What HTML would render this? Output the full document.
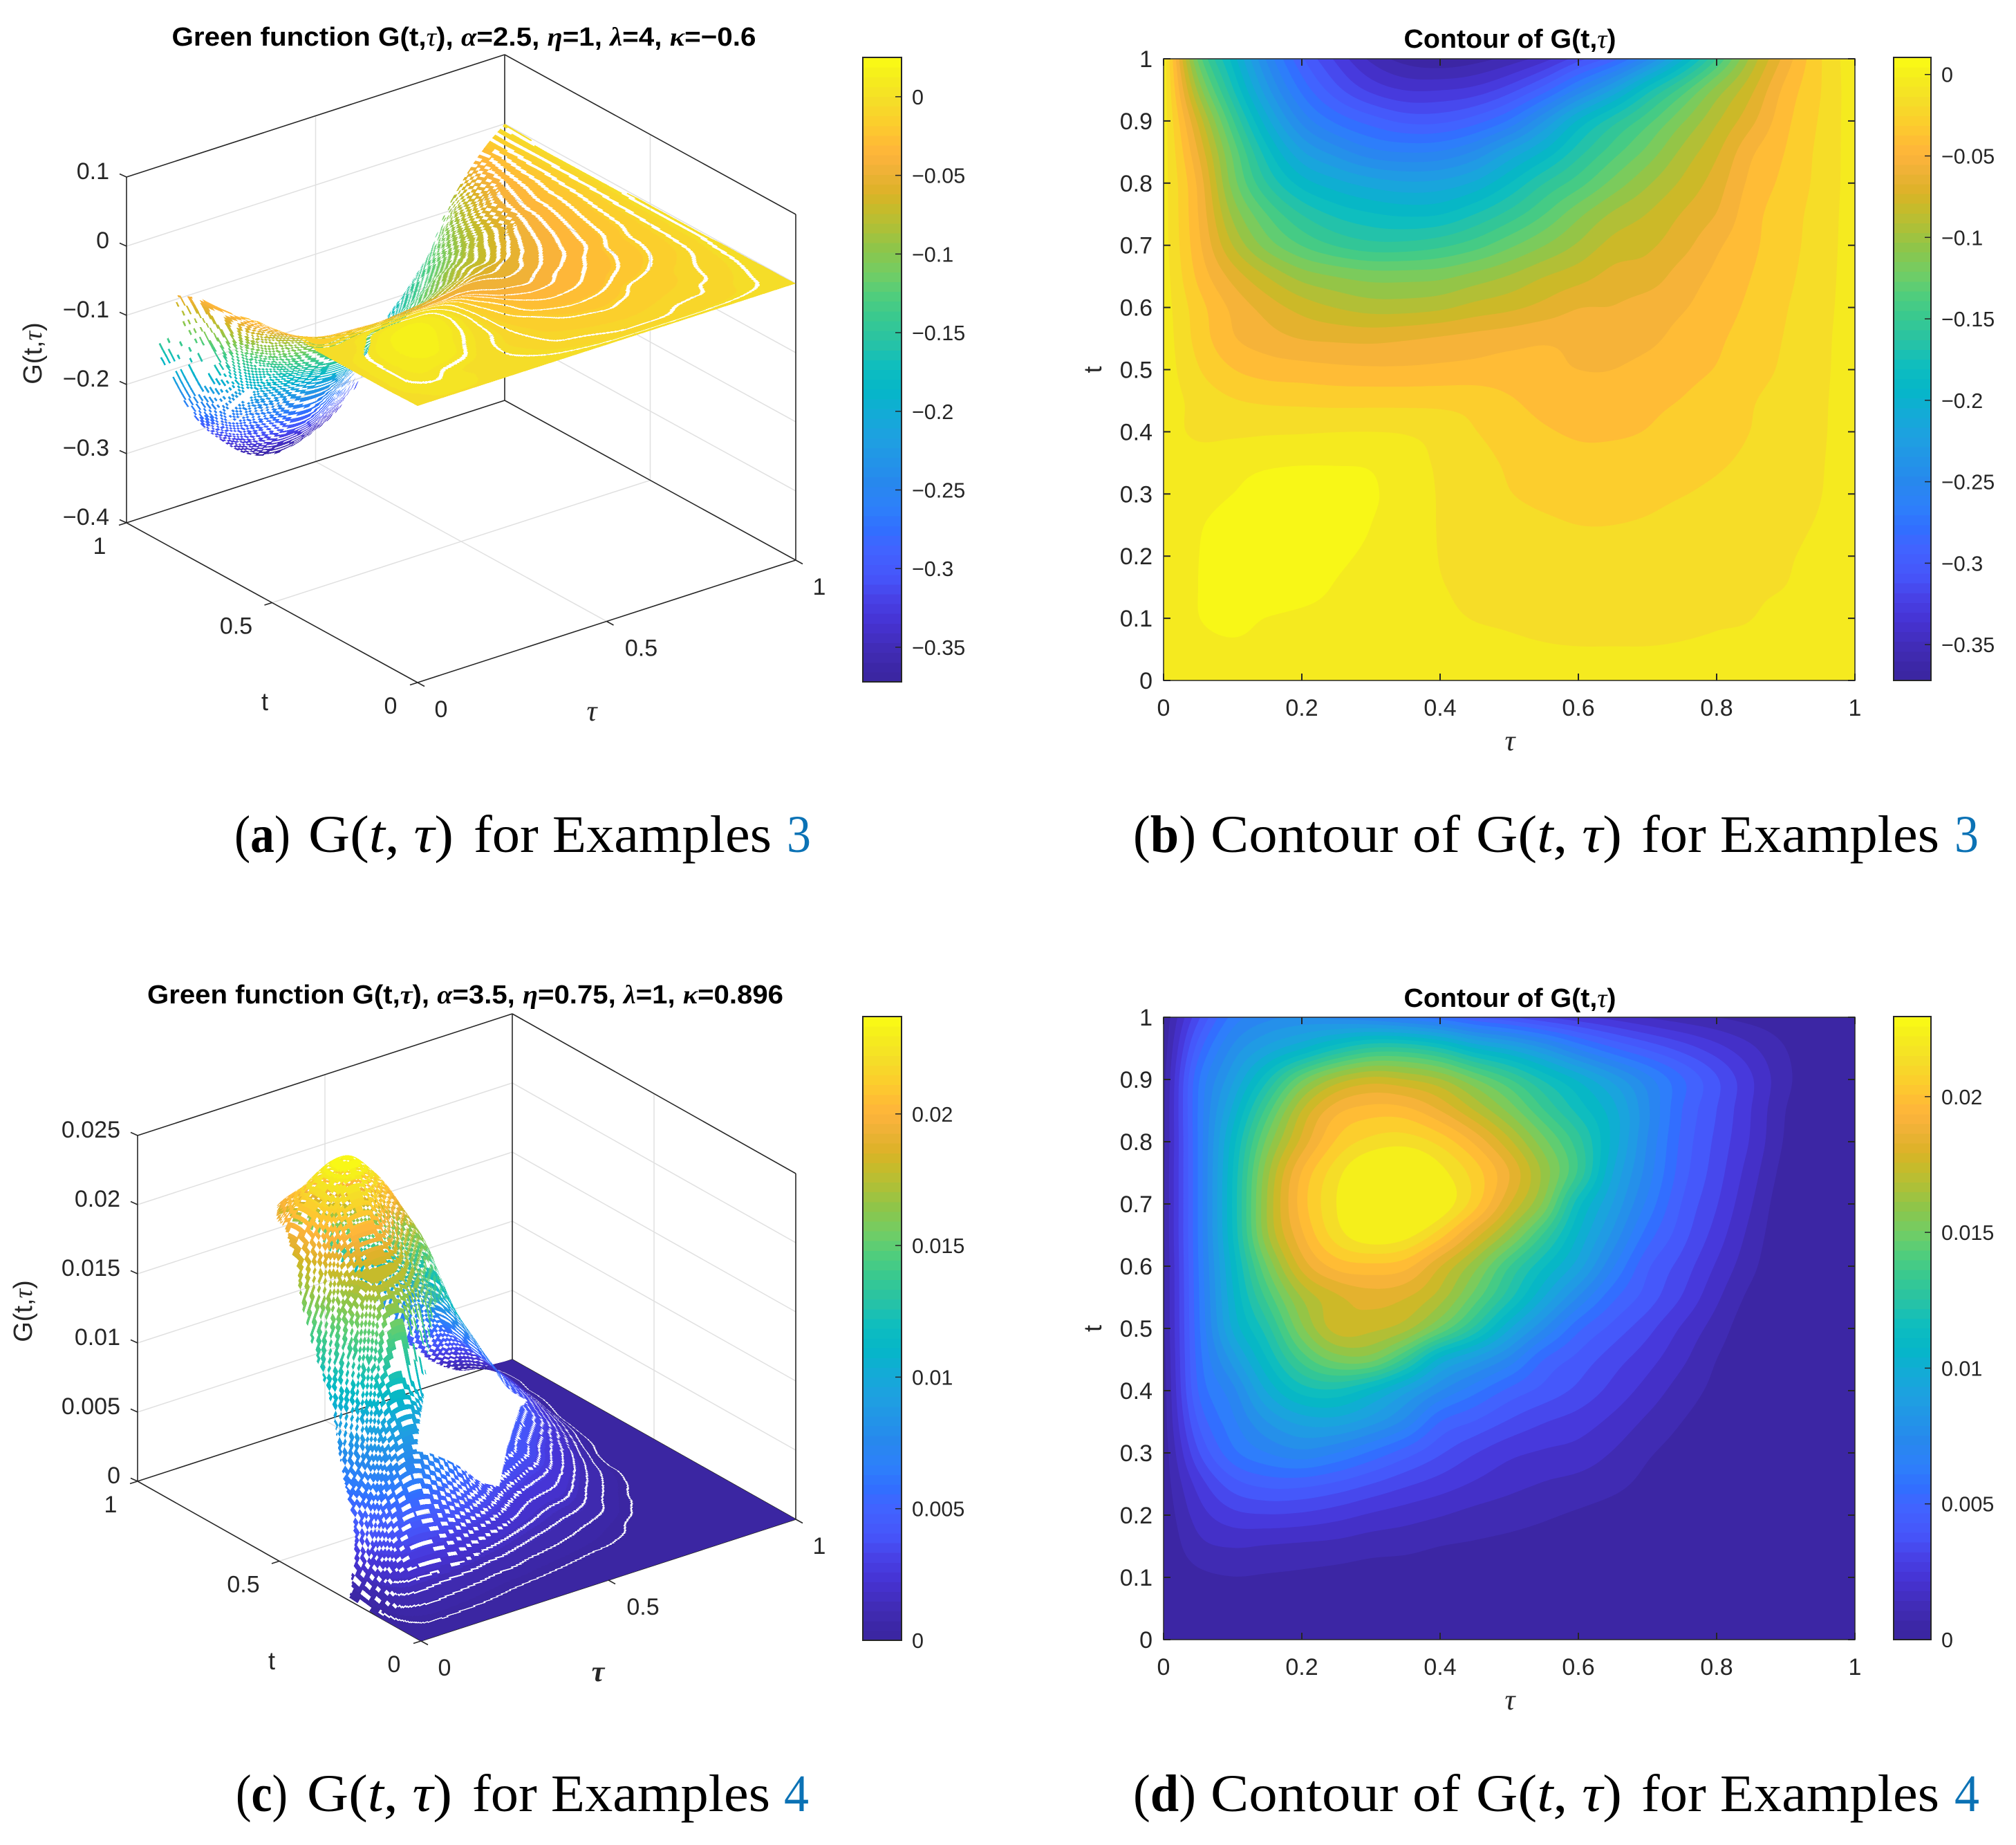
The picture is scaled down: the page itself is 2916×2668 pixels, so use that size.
<!DOCTYPE html>
<html lang="en">
<head>
<meta charset="utf-8">
<title>Green function surfaces and contours</title>
<style>
html,body{margin:0;padding:0;background:#fff;}
svg{display:block;}
text{font-family:"Liberation Sans",sans-serif;fill:#262626;}
.title{font-weight:bold;font-size:38px;fill:#000;}
.greek{font-family:"Liberation Serif",serif;font-style:italic;}
.cap{font-family:"Liberation Serif",serif;font-size:76px;fill:#000;}
</style>
</head>
<body>
<svg id="fig" xmlns="http://www.w3.org/2000/svg" width="2916" height="2668" viewBox="0 0 2916 2668">
<rect width="2916" height="2668" fill="#fff"/>
<g id="panelA"></g>
<g id="panelB"></g>
<g id="panelC"></g>
<g id="panelD"></g>

<text class="title" x="671" y="66" text-anchor="middle" textLength="845" lengthAdjust="spacingAndGlyphs">Green function G(t,<tspan class="greek" font-weight="normal">τ</tspan>), <tspan class="greek">α</tspan>=2.5, <tspan class="greek">η</tspan>=1, <tspan class="greek">λ</tspan>=4, <tspan class="greek">κ</tspan>=−0.6</text>
<text class="title" x="2184" y="69" text-anchor="middle" textLength="307" lengthAdjust="spacingAndGlyphs">Contour of G(t,<tspan class="greek" font-weight="normal">τ</tspan>)</text>
<text class="title" x="673" y="1451" text-anchor="middle" textLength="920" lengthAdjust="spacingAndGlyphs">Green function G(t,<tspan class="greek">τ</tspan>), <tspan class="greek">α</tspan>=3.5, <tspan class="greek">η</tspan>=0.75, <tspan class="greek">λ</tspan>=1, <tspan class="greek">κ</tspan>=0.896</text>
<text class="title" x="2184" y="1456" text-anchor="middle" textLength="307" lengthAdjust="spacingAndGlyphs">Contour of G(t,<tspan class="greek" font-weight="normal">τ</tspan>)</text>

<g>
<text class="cap" x="339" y="1232" textLength="81" lengthAdjust="spacingAndGlyphs">(<tspan font-weight="bold">a</tspan>)</text>
<text class="cap" x="446" y="1232" textLength="210" lengthAdjust="spacingAndGlyphs">G(<tspan font-style="italic">t</tspan>, <tspan font-style="italic">τ</tspan>)</text>
<text class="cap" x="685" y="1232" textLength="431" lengthAdjust="spacingAndGlyphs">for Examples</text>
<text class="cap" x="1138" y="1232" textLength="35" lengthAdjust="spacingAndGlyphs" style="fill:#0b72b5">3</text>
</g>
<g>
<text class="cap" x="1639" y="1232" textLength="91" lengthAdjust="spacingAndGlyphs">(<tspan font-weight="bold">b</tspan>)</text>
<text class="cap" x="1751" y="1232" textLength="361" lengthAdjust="spacingAndGlyphs">Contour of</text>
<text class="cap" x="2135" y="1232" textLength="211" lengthAdjust="spacingAndGlyphs">G(<tspan font-style="italic">t</tspan>, <tspan font-style="italic">τ</tspan>)</text>
<text class="cap" x="2374" y="1232" textLength="431" lengthAdjust="spacingAndGlyphs">for Examples</text>
<text class="cap" x="2827" y="1232" textLength="35" lengthAdjust="spacingAndGlyphs" style="fill:#0b72b5">3</text>
</g>
<g>
<text class="cap" x="341" y="2619" textLength="75" lengthAdjust="spacingAndGlyphs">(<tspan font-weight="bold">c</tspan>)</text>
<text class="cap" x="444" y="2619" textLength="210" lengthAdjust="spacingAndGlyphs">G(<tspan font-style="italic">t</tspan>, <tspan font-style="italic">τ</tspan>)</text>
<text class="cap" x="683" y="2619" textLength="431" lengthAdjust="spacingAndGlyphs">for Examples</text>
<text class="cap" x="1134" y="2619" textLength="36" lengthAdjust="spacingAndGlyphs" style="fill:#0b72b5">4</text>
</g>
<g>
<text class="cap" x="1639" y="2619" textLength="91" lengthAdjust="spacingAndGlyphs">(<tspan font-weight="bold">d</tspan>)</text>
<text class="cap" x="1751" y="2619" textLength="361" lengthAdjust="spacingAndGlyphs">Contour of</text>
<text class="cap" x="2135" y="2619" textLength="211" lengthAdjust="spacingAndGlyphs">G(<tspan font-style="italic">t</tspan>, <tspan font-style="italic">τ</tspan>)</text>
<text class="cap" x="2374" y="2619" textLength="431" lengthAdjust="spacingAndGlyphs">for Examples</text>
<text class="cap" x="2827" y="2619" textLength="36" lengthAdjust="spacingAndGlyphs" style="fill:#0b72b5">4</text>
</g>
</svg>

<script>
// Value grids: rows are t = 0..1, columns are tau = 0..1 (step 0.05).
const greenExample3 = [
[0,0,0,0,0,0,0,0,0,0,0,0,0,0,0,0,0,0,0,0,0],
[-.0005,.0005,.0015,.001,0,-.001,-.002,-.003,-.0045,-.006,-.0075,-.0085,-.009,-.009,-.009,-.0085,-.0078,-.0068,-.005,-.003,-.0005],
[-.001,.0028,.006,.0027,.0005,-.001,-.003,-.005,-.0075,-.0098,-.0105,-.011,-.0115,-.0115,-.0112,-.0105,-.0101,-.0096,-.0066,-.004,-.0005],
[-.001,.003,.0105,.0135,.009,.002,-.002,-.006,-.009,-.0115,-.0125,-.0135,-.014,-.0145,-.0135,-.0125,-.0115,-.0105,-.0094,-.0055,-.001],
[-.001,.0028,.012,.0165,.0135,.006,.0005,-.004,-.0098,-.0125,-.0145,-.0165,-.0175,-.018,-.0165,-.015,-.0138,-.0119,-.0102,-.0072,-.001],
[-.001,.002,.009,.0165,.0165,.0105,.003,-.003,-.0102,-.014,-.017,-.02,-.022,-.022,-.0205,-.0169,-.015,-.013,-.0111,-.0085,-.001],
[-.001,-.001,.003,.009,.012,.0105,.0045,-.002,-.0105,-.016,-.0215,-.025,-.0265,-.0265,-.0255,-.0225,-.0197,-.0164,-.0131,-.0098,-.002],
[-.001,-.003,-.001,.001,.002,.002,.0015,-.004,-.0115,-.018,-.0235,-.028,-.031,-.031,-.0295,-.0259,-.0233,-.0197,-.0151,-.0104,-.002],
[-.003,-.012,-.012,-.011,-.0105,-.0097,-.0095,-.0105,-.014,-.0215,-.027,-.033,-.036,-.036,-.034,-.0298,-.0258,-.0218,-.0165,-.0111,-.002],
[-.002,-.014,-.021,-.024,-.025,-.026,-.026,-.026,-.026,-.027,-.033,-.039,-.041,-.042,-.0375,-.034,-.0285,-.0229,-.0172,-.0115,-.002],
[-.002,-.021,-.034,-.04,-.042,-.044,-.045,-.045,-.044,-.043,-.042,-.044,-.047,-.047,-.0433,-.0386,-.0338,-.0269,-.0198,-.0124,-.002],
[-.002,-.0265,-.0455,-.054,-.06,-.062,-.063,-.061,-.058,-.055,-.052,-.049,-.05,-.052,-.0495,-.0431,-.0366,-.0291,-.0212,-.013,-.002],
[-.003,-.029,-.05,-.065,-.077,-.085,-.09,-.09,-.087,-.08,-.075,-.068,-.06,-.059,-.0539,-.0482,-.0404,-.0318,-.0227,-.0138,-.003],
[-.003,-.0373,-.064,-.085,-.102,-.11,-.115,-.115,-.113,-.105,-.096,-.085,-.077,-.068,-.0655,-.0541,-.0441,-.0345,-.0248,-.0149,-.003],
[-.004,-.0434,-.0845,-.115,-.135,-.148,-.155,-.155,-.15,-.14,-.125,-.11,-.095,-.08,-.0745,-.0637,-.0494,-.0372,-.0266,-.0159,-.003],
[-.004,-.047,-.1,-.135,-.16,-.175,-.183,-.187,-.185,-.172,-.155,-.135,-.113,-.095,-.084,-.0713,-.059,-.0393,-.0277,-.0167,-.003],
[-.004,-.05,-.115,-.16,-.19,-.205,-.215,-.22,-.218,-.207,-.185,-.16,-.14,-.118,-.099,-.0822,-.0656,-.0437,-.0309,-.0181,-.003],
[-.003,-.06,-.125,-.18,-.22,-.24,-.255,-.26,-.258,-.245,-.22,-.195,-.165,-.14,-.118,-.094,-.0741,-.0494,-.0339,-.0187,-.003],
[-.002,-.075,-.145,-.205,-.25,-.275,-.29,-.3,-.3,-.29,-.27,-.235,-.195,-.165,-.139,-.1116,-.0862,-.0628,-.0378,-.0205,-.002],
[-.001,-.1,-.17,-.23,-.275,-.305,-.325,-.335,-.335,-.33,-.315,-.29,-.255,-.22,-.178,-.1416,-.105,-.0749,-.0432,-.0225,-.001],
[0,-.125,-.19,-.25,-.295,-.325,-.35,-.365,-.37,-.365,-.355,-.34,-.315,-.29,-.25,-.2,-.147,-.0936,-.0543,-.0232,0]
];
const greenExample4 = [
[0,0,0,0,0,0,0,0,0,0,0,0,0,0,0,0,0,0,0,0,0],
[0,.00015,.00018,.00016,.00014,.00012,.0001,.00008,.00006,.00005,.00004,.00003,.00002,.00001,0,0,0,0,0,0,0],
[0,.0005,.00068,.00062,.00055,.00045,.00035,.0003,.00025,.0002,.00015,.0001,.0001,.00005,0,0,0,0,0,0,0],
[0,.0012,.0015,.0014,.0013,.0012,.001,.0009,.0007,.0006,.0005,.0004,.0003,.0002,.0001,0,0,0,0,0,0],
[.0001,.0018,.0027,.0029,.0028,.0025,.0021,.0018,.0015,.0012,.001,.0008,.0006,.0004,.0002,.0001,0,0,0,0,0],
[.0002,.0025,.0041,.0047,.0047,.0043,.0037,.0031,.0026,.0021,.0017,.0014,.0012,.0009,.0005,.0002,.0001,0,0,0,0],
[.0002,.0036,.0057,.0067,.0072,.0067,.0058,.0048,.0038,.003,.0024,.0021,.0019,.0014,.0008,.0004,.0001,0,0,0,0],
[.0003,.0045,.0065,.0082,.0092,.0093,.0085,.0072,.0052,.0044,.0036,.003,.0026,.002,.0013,.0007,.0003,0,0,0,0],
[.0003,.0052,.0072,.0098,.0115,.0118,.0108,.0092,.0075,.0062,.005,.0042,.0035,.0027,.0019,.0011,.0005,.0001,0,0,0],
[.0004,.0055,.0085,.0112,.0137,.0152,.0152,.0132,.0102,.0087,.0072,.0052,.0042,.0033,.0025,.0016,.0007,.0001,0,0,0],
[.0005,.0057,.0098,.0124,.0155,.0175,.0174,.0167,.0148,.0125,.0098,.0075,.0054,.0042,.0032,.0021,.0011,.0002,0,0,0],
[.0005,.0058,.0103,.0137,.0165,.0178,.0183,.018,.0168,.0146,.0122,.0097,.0074,.0054,.0041,.0029,.0016,.0005,0,0,0],
[.0005,.0059,.0107,.015,.0182,.0197,.02,.0197,.018,.016,.0135,.0113,.0093,.0068,.0046,.0034,.0021,.0009,0,0,0],
[.0006,.006,.0112,.0163,.0193,.0213,.0223,.022,.0205,.0183,.016,.0133,.0104,.008,.0056,.004,.0026,.0012,.0001,0,0],
[.0006,.006,.0113,.0165,.0198,.0217,.0232,.0237,.0224,.0205,.018,.0155,.0115,.0089,.0065,.0044,.003,.0015,.0002,0,0],
[.0006,.006,.0112,.0162,.0195,.0214,.0228,.0232,.022,.0206,.0187,.0162,.0133,.0097,.0071,.0048,.0033,.0018,.0004,0,0],
[.0005,.006,.0108,.0152,.0182,.0203,.0212,.0214,.0207,.0193,.0174,.0152,.013,.0102,.0074,.005,.0035,.0021,.0006,0,0],
[.0005,.006,.0099,.0138,.0172,.0192,.0198,.0197,.0187,.0172,.0155,.0135,.0117,.01,.0076,.0052,.0037,.0022,.0007,0,0],
[.0004,.0058,.0088,.0118,.0148,.0167,.0175,.0172,.0165,.015,.0135,.0118,.0103,.0087,.007,.0053,.0038,.0023,.0009,.0001,0],
[.0002,.0048,.0076,.0092,.0104,.0118,.0128,.0128,.012,.0105,.0095,.0082,.0066,.0053,.0043,.0034,.0025,.0016,.0007,.0001,0],
[0,.0035,.0062,.0072,.0075,.0072,.0068,.0062,.0055,.0045,.0038,.003,.0024,.0019,.0014,.001,.0007,.0004,.0002,.0001,0]
];
const surfaceAZTicks = [0.1, 0, -0.1, -0.2, -0.3, -0.4];
const surfaceAZLabels = ['0.1', '0', '−0.1', '−0.2', '−0.3', '−0.4'];
const surfaceCZTicks = [0.025, 0.02, 0.015, 0.01, 0.005, 0];
const surfaceCZLabels = ['0.025', '0.02', '0.015', '0.01', '0.005', '0'];
const surfaceHorizTicks = [0, 0.5, 1];
const surfaceHorizLabels = ['0', '0.5', '1'];
const contourXTicks = [0, 0.2, 0.4, 0.6, 0.8, 1];
const contourXLabels = ['0', '0.2', '0.4', '0.6', '0.8', '1'];
const contourYTicks = [0, 0.1, 0.2, 0.3, 0.4, 0.5, 0.6, 0.7, 0.8, 0.9, 1];
const contourYLabels = ['0', '0.1', '0.2', '0.3', '0.4', '0.5', '0.6', '0.7', '0.8', '0.9', '1'];
const colorbarTicksEx3 = [0, -0.05, -0.1, -0.15, -0.2, -0.25, -0.3, -0.35];
const colorbarLabelsEx3 = ['0', '−0.05', '−0.1', '−0.15', '−0.2', '−0.25', '−0.3', '−0.35'];
const colorbarTicksEx4 = [0, 0.005, 0.01, 0.015, 0.02];
const colorbarLabelsEx4 = ['0', '0.005', '0.01', '0.015', '0.02'];

const SVGNS = 'http://www.w3.org/2000/svg';
// Colour ramp sampled from the reference colorbar: [fraction, r, g, b].
const RAMP = [[0,58,38,160],[.02,60,38,165],[.058,65,45,185],[.094,70,50,210],[.132,72,65,230],[.168,70,85,250],[.215,65,100,255],[.243,50,110,255],[.28,45,128,250],[.316,40,135,238],[.354,35,148,232],[.39,30,160,225],[.427,20,170,215],[.465,5,182,200],[.507,15,190,190],[.544,40,195,165],[.581,55,200,145],[.618,80,205,125],[.655,115,205,100],[.692,140,198,75],[.729,175,192,55],[.766,205,185,40],[.784,220,178,40],[.82,240,178,55],[.843,253,180,60],[.858,255,185,55],[.894,252,205,45],[.931,245,222,40],[.97,245,238,28],[1,250,252,20]];

function cmap(f) {
  f = Math.max(0, Math.min(1, f));
  let i = 0;
  while (i < RAMP.length - 2 && RAMP[i + 1][0] < f) i++;
  const a = RAMP[i], b = RAMP[i + 1];
  const u = (f - a[0]) / (b[0] - a[0]);
  return 'rgb(' + [1, 2, 3].map(k => Math.round(a[k] + (b[k] - a[k]) * u)).join(',') + ')';
}
function node(parent, tag) {
  const el = document.createElementNS(SVGNS, tag);
  parent.appendChild(el);
  return el;
}
function seg(parent, x1, y1, x2, y2, color, width) {
  const el = node(parent, 'line');
  el.setAttribute('x1', x1);
  el.setAttribute('y1', y1);
  el.setAttribute('x2', x2);
  el.setAttribute('y2', y2);
  el.setAttribute('stroke', color);
  el.setAttribute('stroke-width', width);
  return el;
}
function label(parent, x, y, str, size, anchor) {
  const el = node(parent, 'text');
  el.setAttribute('x', x);
  el.setAttribute('y', y);
  el.setAttribute('font-size', size);
  el.setAttribute('text-anchor', anchor);
  el.textContent = str;
  return el;
}
function greek(parent, x, y, size, bold) {
  const el = label(parent, x, y, 'τ', size, 'middle');
  el.setAttribute('class', 'greek');
  if (bold) el.setAttribute('font-weight', 'bold');
  return el;
}
function gLabel(parent, x, y, size, rotate) {
  const el = node(parent, 'text');
  el.setAttribute('font-size', size);
  el.setAttribute('text-anchor', 'middle');
  el.setAttribute('transform', 'translate(' + x + ',' + y + ') rotate(' + rotate + ')');
  el.appendChild(document.createTextNode('G(t,'));
  const s = node(el, 'tspan');
  s.setAttribute('class', 'greek');
  s.textContent = 'τ';
  el.appendChild(document.createTextNode(')'));
  return el;
}

// Catmull-Rom resampling of a value grid onto an (n+1)x(n+1) lattice; ends use linear extrapolation.
function resample(grid, n) {
  const rows = grid.length, cols = grid[0].length;
  const out = new Float64Array((n + 1) * (n + 1));
  function cr(a, b, c, d, u) {
    return b + 0.5 * u * (c - a + u * (2 * a - 5 * b + 4 * c - d + u * (3 * (b - c) + d - a)));
  }
  function rowAt(R, c, u) {
    const a = c > 0 ? R[c - 1] : 2 * R[0] - R[1];
    const d = c + 2 < cols ? R[c + 2] : 2 * R[cols - 1] - R[cols - 2];
    return cr(a, R[c], R[c + 1], d, u);
  }
  for (let j = 0; j <= n; j++) {
    const ty = j / n * (rows - 1);
    const r = Math.min(rows - 2, Math.floor(ty));
    const v = ty - r;
    for (let i = 0; i <= n; i++) {
      const tx = i / n * (cols - 1);
      const c = Math.min(cols - 2, Math.floor(tx));
      const u = tx - c;
      const p1 = rowAt(grid[r], c, u), p2 = rowAt(grid[r + 1], c, u);
      const p0 = r > 0 ? rowAt(grid[r - 1], c, u) : 2 * p1 - p2;
      const p3 = r + 2 < rows ? rowAt(grid[r + 2], c, u) : 2 * p2 - p1;
      out[j * (n + 1) + i] = cr(p0, p1, p2, p3, v);
    }
  }
  return out;
}

function drawColorbar(parent, box, vmin, vmax, ticks, labels) {
  const g = node(parent, 'g');
  
  
  const y = v => box.bottom - (v - vmin) / (vmax - vmin) * (box.bottom - box.top);
  const steps = 64;
  for (let k = 0; k < steps; k++) {
    const r = node(g, 'rect');
    
    
    const h = (box.bottom - box.top) / steps;
    r.setAttribute('x', box.left);
    r.setAttribute('y', box.bottom - (k + 1) * h);
    r.setAttribute('width', box.right - box.left);
    r.setAttribute('height', h + 0.5);
    r.setAttribute('fill', cmap((k + 0.5) / steps));
    r.setAttribute('shape-rendering', 'crispEdges');
  }
  const frame = node(g, 'rect');
  
  
  frame.setAttribute('x', box.left);
  frame.setAttribute('y', box.top);
  frame.setAttribute('width', box.right - box.left);
  frame.setAttribute('height', box.bottom - box.top);
  frame.setAttribute('fill', 'none');
  frame.setAttribute('stroke', '#262626');
  frame.setAttribute('stroke-width', 2);
  ticks.forEach((v, i) => {
    const t = seg(g, box.right - 9, y(v), box.right, y(v), '#262626', 1.5);
    
    
    const l = label(g, box.right + 15, y(v) + 11, labels[i], 30.5, 'start');
    
    
  });
}

function drawContour(parent, cfg) {
  const L = cfg.left, R = cfg.right, T = cfg.top, B = cfg.bottom;
  const n = 240, w = n + 1;
  const F = resample(cfg.grid, n);
  const X = i => L + i / n * (R - L);
  const Y = j => B - j / n * (B - T);
  const colorOf = v => cmap((v - cfg.vmin) / (cfg.vmax - cfg.vmin));
  const levels = cfg.levels;
  const base = node(parent, 'rect');
  
  
  base.setAttribute('x', L);
  base.setAttribute('y', T);
  base.setAttribute('width', R - L);
  base.setAttribute('height', B - T);
  base.setAttribute('fill', colorOf((cfg.vmin + levels[0]) / 2));
  levels.forEach((lev, k) => {
    const next = k + 1 < levels.length ? levels[k + 1] : cfg.vmax;
    let d = '';
    for (let j = 0; j < n; j++) {
      let run = -1;
      for (let i = 0; i <= n; i++) {
        if (i === n) { if (run >= 0) { d += 'M' + X(run).toFixed(1) + ' ' + Y(j).toFixed(1) + 'H' + X(i).toFixed(1) + 'V' + Y(j + 1).toFixed(1) + 'H' + X(run).toFixed(1) + 'Z'; run = -1; } break; }
        const a = F[j * w + i], b = F[j * w + i + 1], c = F[(j + 1) * w + i + 1], e = F[(j + 1) * w + i];
        const allIn = a >= lev && b >= lev && c >= lev && e >= lev;
        if (allIn) { if (run < 0) run = i; continue; }
        if (run >= 0) { d += 'M' + X(run).toFixed(1) + ' ' + Y(j).toFixed(1) + 'H' + X(i).toFixed(1) + 'V' + Y(j + 1).toFixed(1) + 'H' + X(run).toFixed(1) + 'Z'; run = -1; }
        if (a < lev && b < lev && c < lev && e < lev) continue;
        const pts = [[i, j, a], [i + 1, j, b], [i + 1, j + 1, c], [i, j + 1, e]];
        const poly = [];
        for (let q = 0; q < 4; q++) {
          const p = pts[q], r = pts[(q + 1) % 4];
          if (p[2] >= lev) poly.push([X(p[0]), Y(p[1])]);
          if ((p[2] >= lev) !== (r[2] >= lev)) {
            const u = (lev - p[2]) / (r[2] - p[2]);
            poly.push([X(p[0] + (r[0] - p[0]) * u), Y(p[1] + (r[1] - p[1]) * u)]);
          }
        }
        d += 'M' + poly.map(o => o[0].toFixed(1) + ' ' + o[1].toFixed(1)).join('L') + 'Z';
      }
    }
    if (!d) return;
    const band = node(parent, 'path');
    
    
    band.setAttribute('d', d);
    band.setAttribute('fill', colorOf((lev + next) / 2));
  });
  const frame = node(parent, 'rect');
  
  
  frame.setAttribute('x', L);
  frame.setAttribute('y', T);
  frame.setAttribute('width', R - L);
  frame.setAttribute('height', B - T);
  frame.setAttribute('fill', 'none');
  frame.setAttribute('stroke', '#262626');
  frame.setAttribute('stroke-width', 1.5);
  const sx = v => L + v * (R - L);
  const sy = v => B - v * (B - T);
  contourXTicks.forEach((v, i) => {
    const t1 = seg(parent, sx(v), B, sx(v), B - 10, '#262626', 2);
    
    
    const t2 = seg(parent, sx(v), T, sx(v), T + 10, '#262626', 2);
    
    
    const l = label(parent, sx(v), B + 51, contourXLabels[i], 34, 'middle');
    
    
  });
  contourYTicks.forEach((v, i) => {
    const t1 = seg(parent, L, sy(v), L + 10, sy(v), '#262626', 2);
    
    
    const t2 = seg(parent, R, sy(v), R - 10, sy(v), '#262626', 2);
    
    
    const l = label(parent, L - 16, sy(v) + 12, contourYLabels[i], 34, 'end');
    
    
  });
  const xt = greek(parent, (L + R) / 2 + 1, B + 101, 42, false);
  
  
  const yt = label(parent, 0, 0, 't', 36, 'middle');
  yt.setAttribute('transform', 'translate(' + (L - 90) + ',' + ((T + B) / 2 + 0) + ') rotate(-90)');
  
  
}

function drawSurface(parent, cfg) {
  const zs = cfg.zHeight / (cfg.zTop - cfg.zBottom);
  const P = (tau, t, g) => [
    cfg.ox + tau * cfg.ax + t * cfg.bx,
    cfg.oy + tau * cfg.ay + t * cfg.by - (g - cfg.zBottom) * zs
  ];
  const GRID = '#e0e0e0', AX = '#262626';
  const grids = node(parent, 'g');
  
  
  function line3(host, a, b, c, d) {
    return seg(host, a[0], a[1], b[0], b[1], c, d);
  }
  cfg.zTicks.forEach(z => {
    if (z === cfg.zBottom || z === cfg.zTop) return;
    const a = line3(grids, P(0, 1, z), P(1, 1, z), GRID, 1.5);
    
    
    const b = line3(grids, P(1, 1, z), P(1, 0, z), GRID, 1.5);
    
    
  });
  const mid = surfaceHorizTicks[1];
  const g1 = line3(grids, P(mid, 1, cfg.zBottom), P(mid, 1, cfg.zTop), GRID, 1.5);
  
  
  const g2 = line3(grids, P(1, mid, cfg.zBottom), P(1, mid, cfg.zTop), GRID, 1.5);
  
  
  const g3 = line3(grids, P(mid, 0, cfg.zBottom), P(mid, 1, cfg.zBottom), GRID, 1.5);
  
  
  const g4 = line3(grids, P(0, mid, cfg.zBottom), P(1, mid, cfg.zBottom), GRID, 1.5);
  
  

  const box = node(parent, 'g');
  
  
  const zb = cfg.zBottom, zt = cfg.zTop;
  [[[0,1,zb],[1,1,zb]],[[1,1,zb],[1,0,zb]],[[0,1,zb],[0,0,zb]],[[0,0,zb],[1,0,zb]],
   [[0,1,zb],[0,1,zt]],[[1,1,zb],[1,1,zt]],[[1,0,zb],[1,0,zt]],
   [[0,1,zt],[1,1,zt]],[[1,1,zt],[1,0,zt]]].forEach(e => {
    const ln = line3(box, P(e[0][0], e[0][1], e[0][2]), P(e[1][0], e[1][1], e[1][2]), AX, 1.6);
    
    
  });

  // Surface: thin white stair-stepped iso-lines on gentle slopes, broken mesh dashes on steep slopes.
  const n = cfg.mesh, w = n + 1, ratio = cfg.meshRatio;
  const F = resample(cfg.grid, n);
  const surf = node(parent, 'g');
  
  
  surf.setAttribute('shape-rendering', 'crispEdges');
  const bucket = v => Math.floor((Math.min(v, cfg.levelCap) - cfg.levelBase) / cfg.levelStep);
  const rimAt = t => {
    const T = cfg.rimT, U = cfg.rimTau;
    if (t <= T[0]) return U[0];
    for (let k = 1; k < T.length; k++) {
      if (t <= T[k]) return U[k - 1] + (U[k] - U[k - 1]) * (t - T[k - 1]) / (T[k] - T[k - 1]);
    }
    return U[U.length - 1];
  };
  for (let j = n - 1; j >= 0; j--) {
    const byColor = {};
    const tA = j / n, tB = (j + 1) / n;
    const J = j - j % ratio, J2 = Math.min(n, J + ratio);
    const rim = rimAt(tA);
    for (let i = n - 1; i >= 0; i--) {
      const uA = i / n, uB = (i + 1) / n;
      if (uA < rim) continue;
      const a = F[j * w + i], b = F[j * w + i + 1], c = F[(j + 1) * w + i + 1], e = F[(j + 1) * w + i];
      const I = i - i % ratio, I2 = Math.min(n, I + ratio);
      const ca = F[J * w + I], cb = F[J * w + I2], cc = F[J2 * w + I2], ce = F[J2 * w + I];
      const cLo = Math.min(ca, cb, cc, ce), cHi = Math.max(ca, cb, cc, ce), range = cHi - cLo;
      if (range > cfg.steepShare * cfg.levelStep) {
        const cm = (ca + cb + cc + ce) / 4, half = cfg.dashShrink * range / 2;
        if (bucket(cm - half) !== bucket(cm + half)) continue;
      } else {
        const lo = Math.min(a, b, c, e), hi = Math.max(a, b, c, e);
        const fm = (lo + hi) / 2, fh = (hi - lo) * cfg.flatWiden / 2;
        if (bucket(fm - fh) !== bucket(fm + fh)) continue;
      }
      if (cfg.meshGap) {
        const gap = cfg.meshGap, off = uA - tA - gap.offset;
        if (tA > gap.tMin && tA < gap.tMax && Math.abs(off) < gap.halfWidth) continue;
      }
      const m = (a + b + c + e) / 4;
      let q = Math.floor((m - cfg.vmin) / (cfg.vmax - cfg.vmin) * 64);
      q = Math.max(0, Math.min(63, q));
      const p1 = P(uA, tA, a), p2 = P(uB, tA, b), p3 = P(uB, tB, c), p4 = P(uA, tB, e);
      byColor[q] = (byColor[q] || '') + 'M' + p1[0].toFixed(1) + ' ' + p1[1].toFixed(1) + 'L' + p2[0].toFixed(1) + ' ' + p2[1].toFixed(1) + 'L' + p3[0].toFixed(1) + ' ' + p3[1].toFixed(1) + 'L' + p4[0].toFixed(1) + ' ' + p4[1].toFixed(1) + 'Z';
    }
    Object.keys(byColor).forEach(q => {
      const strip = node(surf, 'path');
      
      
      strip.setAttribute('d', byColor[q]);
      strip.setAttribute('fill', cmap((+q + 0.5) / 64));
    });
  }

  cfg.zTicks.forEach((z, i) => {
    const p = P(0, 1, z);
    const t = seg(parent, p[0], p[1], p[0] - 10, p[1] - 4.5, AX, 1.6);
    
    
    const l = label(parent, p[0] - 25, p[1] + 3, cfg.zLabels[i], 34, 'end');
    
    
  });
  surfaceHorizTicks.forEach((v, i) => {
    const p = P(0, v, zb);
    const t = seg(parent, p[0], p[1], p[0] - 11, p[1] + 3.5, AX, 1.6);
    
    
    const dx = v === mid ? -52 : -39;
    const l = label(parent, p[0] + dx, p[1] + 45, surfaceHorizLabels[i], 34, 'middle');
    
    
    const q = P(v, 0, zb);
    const t2 = seg(parent, q[0], q[1], q[0] + 10, q[1] + 5.5, AX, 1.6);
    
    
    const ex = v === mid ? 50 : 34;
    const l2 = label(parent, q[0] + ex, q[1] + 50, surfaceHorizLabels[i], 34, 'middle');
    
    
  });
  const tt = label(parent, cfg.tLabel[0], cfg.tLabel[1], 't', 36, 'middle');
  
  
  const ut = greek(parent, cfg.tauLabel[0], cfg.tauLabel[1], 42, cfg.tauBold);
  
  
  const gt = gLabel(parent, cfg.gLabel[0], cfg.gLabel[1], 38, -90);
  
  
}

const levelsEx3 = [];
for (let v = -0.3595; v <= 0.003001; v += 0.0125) levelsEx3.push(v);
const levelsEx4 = [];
for (let v = 0.0007; v <= 0.0218; v += 0.00075) levelsEx4.push(v);

drawSurface(document.getElementById('panelA'), {
  grid: greenExample3, ox: 604, oy: 987, ax: 547, ay: -177, bx: -421, by: -231,
  zBottom: -0.4, zTop: 0.1, zHeight: 500, zTicks: surfaceAZTicks, zLabels: surfaceAZLabels,
  vmin: -0.372, vmax: 0.025, mesh: 360, meshRatio: 2, dashShrink: 0.6, steepShare: 0.4, flatWiden: 2.2,
  levelBase: 0.003, levelStep: 0.0066, levelCap: 0.004,
  rimT: [0.35, 0.45, 1], rimTau: [0, 0.03, 0.035],
  tLabel: [383, 1027], tauLabel: [856, 1042], gLabel: [60, 511], tauBold: false
});
drawColorbar(document.getElementById('panelA'), {left: 1248, right: 1304, top: 83, bottom: 986}, -0.372, 0.025, colorbarTicksEx3, colorbarLabelsEx3);

drawContour(document.getElementById('panelB'), {
  grid: greenExample3, left: 1683, right: 2683, top: 85, bottom: 984,
  vmin: -0.372, vmax: 0.0119, levels: levelsEx3
});
drawColorbar(document.getElementById('panelB'), {left: 2739, right: 2793, top: 83, bottom: 984}, -0.372, 0.0105, colorbarTicksEx3, colorbarLabelsEx3);

drawSurface(document.getElementById('panelC'), {
  grid: greenExample4, ox: 609, oy: 2373, ax: 542, ay: -176, bx: -410, by: -231,
  zBottom: 0, zTop: 0.025, zHeight: 500, zTicks: surfaceCZTicks, zLabels: surfaceCZLabels,
  vmin: 0, vmax: 0.0237, mesh: 340, meshRatio: 2, dashShrink: 0.5, steepShare: 0.35, flatWiden: 1,
  levelBase: 0.0007, levelStep: 0.0005, levelCap: 1,
  meshGap: {offset: 0.02, halfWidth: 0.11, tMin: 0.32, tMax: 0.62},
  rimT: [0.25, 0.3, 0.47, 0.62, 0.8, 0.9, 0.93, 1], rimTau: [0, 0.05, 0.12, 0.15, 0.22, 0.3, 0.6, 0.9],
  tLabel: [393, 2414], tauLabel: [865, 2431], gLabel: [46, 1896], tauBold: true
});
drawColorbar(document.getElementById('panelC'), {left: 1248, right: 1304, top: 1470, bottom: 2372}, 0, 0.0237, colorbarTicksEx4, colorbarLabelsEx4);

drawContour(document.getElementById('panelD'), {
  grid: greenExample4, left: 1683, right: 2683, top: 1471, bottom: 2371,
  vmin: 0, vmax: 0.02295, levels: levelsEx4
});
drawColorbar(document.getElementById('panelD'), {left: 2739, right: 2793, top: 1470, bottom: 2371}, 0, 0.02295, colorbarTicksEx4, colorbarLabelsEx4);
</script>
</body>
</html>
